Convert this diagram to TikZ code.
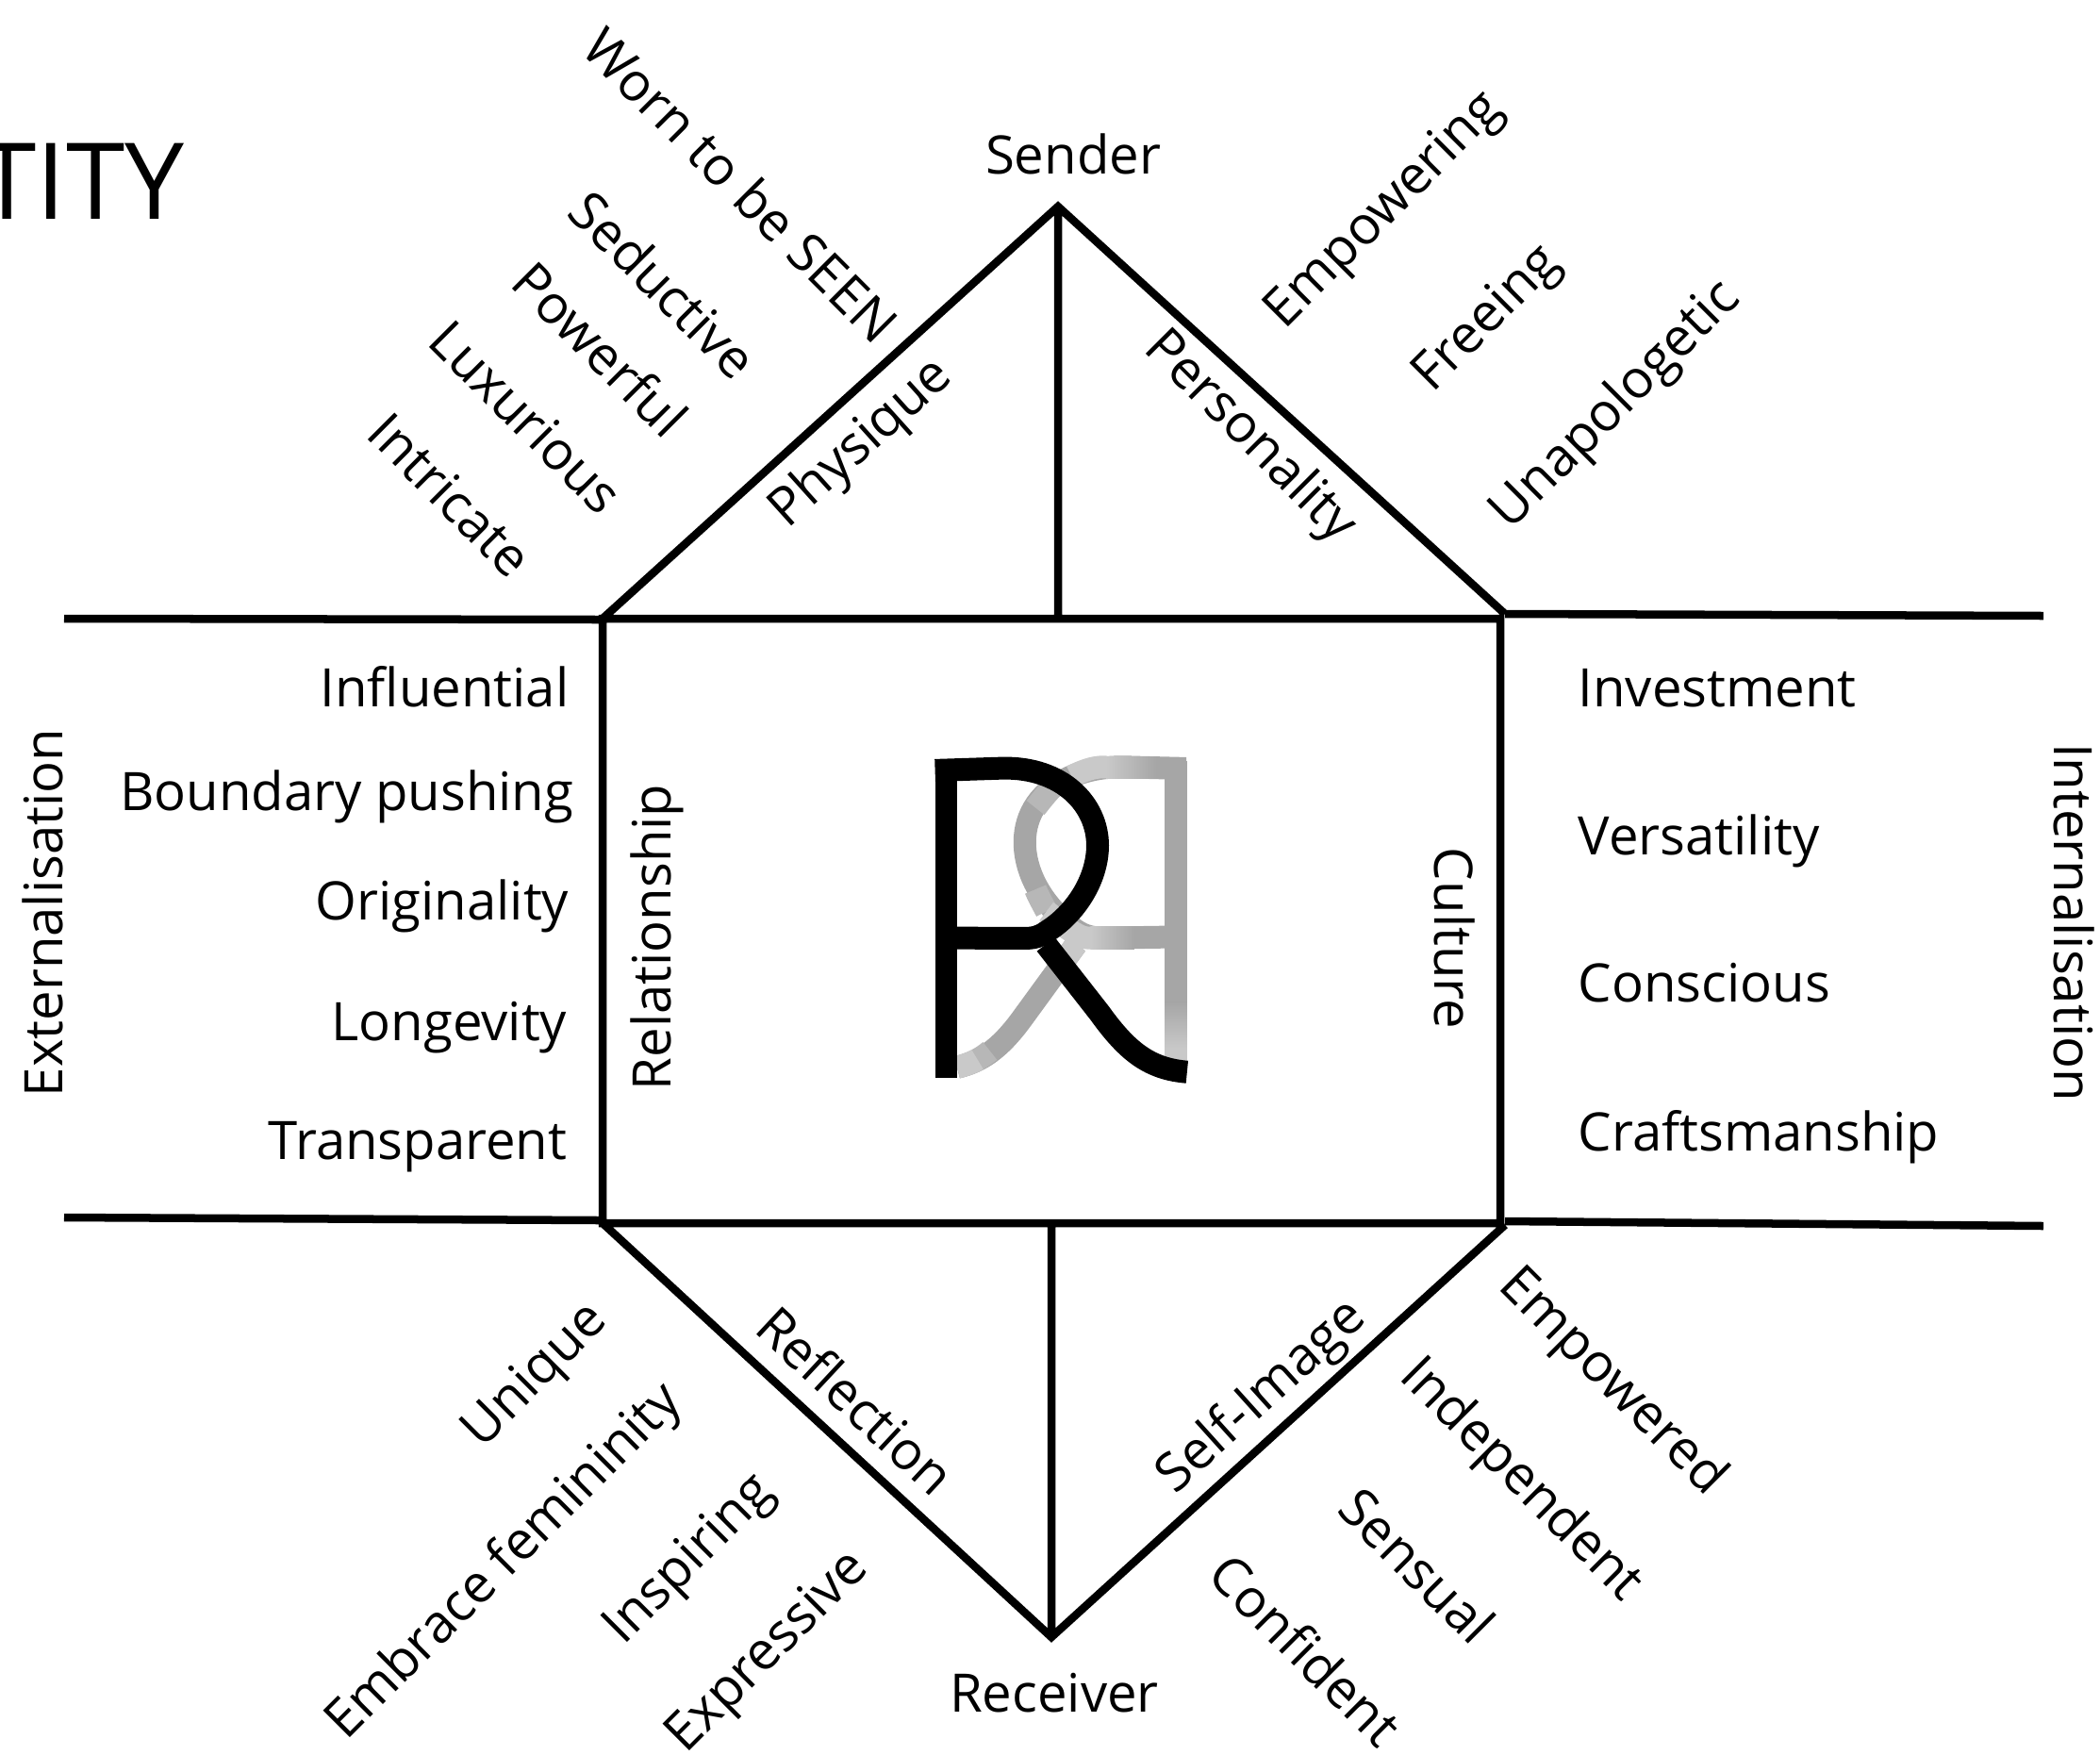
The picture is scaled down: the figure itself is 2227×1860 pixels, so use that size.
\documentclass[tikz,border=0pt]{standalone}
\usepackage{fontspec}
\setmainfont{Open Sans}
\definecolor{logogrey}{HTML}{A6A6A6}
\definecolor{logolight}{HTML}{C9C9C9}
\definecolor{logomid}{HTML}{B7B7B7}
\tikzset{
  word/.style={inner sep=0pt, font=\fontsize{16}{18}\selectfont},
  frameline/.style={line width=0.085cm, color=black},
  logostroke/.style={line width=0.24cm}
}
\begin{document}
\begin{tikzpicture}[x=0.01cm, y=-0.01cm]
    \useasboundingbox (0,0) rectangle (2227,1860);
    \path
    (1122,219) node (sender) {}
    (1122,656) node (sendermid) {}
    (639,656) node (tl) {}
    (1591,656) node (tr) {}
    (639,1297) node (bl) {}
    (1591,1297) node (br) {}
    (1115,1297) node (receivermid) {}
    (1115,1736) node (receiver) {}
    (68,656) node (extop) {}
    (636,657) node (extopend) {}
    (68,1291) node (exbot) {}
    (636,1294) node (exbotend) {}
    (1596,651) node (intop) {}
    (2167,653) node (intopend) {}
    (1596,1295) node (inbot) {}
    (2167,1300) node (inbotend) {}
    (1596,651) node (roofr) {}
    (1596,1299) node (keelr) {};

    \draw[frameline]
    (tl.center) -- (tr.center) -- (br.center) -- (bl.center) -- cycle
    (tl.center) -- (sender.center) -- (roofr.center)
    (sender.center) -- (sendermid.center)
    (bl.center) -- (receiver.center) -- (keelr.center)
    (receivermid.center) -- (receiver.center)
    (extop.center) -- (extopend.center)
    (exbot.center) -- (exbotend.center)
    (intop.center) -- (intopend.center)
    (inbot.center) -- (inbotend.center);

    % mark in the middle
    \begin{scope}[shift={(950,770)}, x=0.003333cm, y=-0.003333cm]
      \draw[logostroke, color=logogrey]
      (925,135) -- (760,131) .. controls (700,129) and (640,128) .. (560,160)
      .. controls (460,205) and (411,280) .. (411,370)
      .. controls (411,470) and (470,570) .. (560,640)
      .. controls (590,665) and (620,675) .. (660,675) -- (860,672);
      \draw[logostroke, color=logogrey]
      (575,695) -- (400,935) .. controls (330,1030) and (270,1070) .. (195,1087);
      \fill[color=logogrey] (857,110) rectangle (928,1075);
      \shade[top color=logogrey, bottom color=logolight] (857,880) rectangle (928,1030);
      \fill[color=logolight] (857,1030) rectangle (928,1075);
      % lighter stretches
      \shade[left color=logolight, right color=logogrey] (670,97) rectangle (830,167);
      \draw[logostroke, color=logolight]
      (672,130) .. controls (640,129) and (610,135) .. (560,160);
      \draw[logostroke, color=logomid]
      (500,195) .. controls (480,215) and (465,235) .. (445,260);
      \draw[logostroke, color=logomid]
      (445,520) .. controls (455,545) and (470,570) .. (480,590);
      \draw[logostroke, color=logolight]
      (480,590) .. controls (500,605) and (510,615) .. (530,630);
      \draw[logostroke, color=logolight]
      (540,640) .. controls (590,675) and (600,675) .. (625,675);
      \shade[left color=logolight, right color=logogrey] (620,639) rectangle (760,710);
      \draw[logostroke, color=logolight]
      (575,695) -- (520,770);
      \draw[logostroke, color=logomid]
      (300,1035) .. controls (270,1060) and (240,1075) .. (195,1087);
      \draw[logostroke, color=logolight]
      (260,1062) .. controls (240,1075) and (220,1080) .. (195,1087);

      \fill[color=black] (125,113) rectangle (195,1122);
      \draw[logostroke, color=black]
      (125,141) -- (340,134) .. controls (530,130) and (643,250) .. (643,380)
      .. controls (643,490) and (570,600) .. (480,655)
      .. controls (460,670) and (440,676) .. (410,676) -- (195,675);
      \draw[logostroke, color=black]
      (478,695) -- (650,915) .. controls (740,1040) and (810,1092) .. (928,1102);
    \end{scope}

    \node[word, anchor=east, font=\fontsize{32}{36}\selectfont] (title) at (196,192) {TITY};
    \node[word] (sendername) at (1138,163) {Sender};
    \node[word] (receivername) at (1118,1795) {Receiver};

    \node[word, rotate=-45] (worn) at (786,196) {Worn to be SEEN};
    \node[word, rotate=-45] (seductive) at (704,302) {Seductive};
    \node[word, rotate=-45] (powerful) at (637,370) {Powerful};
    \node[word, rotate=-45] (luxurious) at (558,442) {Luxurious};
    \node[word, rotate=-45] (intricate) at (478,525) {Intricate};
    \node[word, rotate=42] (physique) at (914,471) {Physique};
    \node[word, rotate=-45] (personality) at (1325,464) {Personality};
    \node[word, rotate=45] (empowering) at (1469,224) {Empowering};
    \node[word, rotate=45] (freeing) at (1578,339) {Freeing};
    \node[word, rotate=45] (unapologetic) at (1714,431) {Unapologetic};

    \node[word, anchor=base east] (influential) at (604,749) {Influential};
    \node[word, anchor=base east] (boundary) at (609,859) {Boundary pushing};
    \node[word, anchor=base east] (originality) at (604,975) {Originality};
    \node[word, anchor=base east] (longevity) at (602,1103) {Longevity};
    \node[word, anchor=base east] (transparent) at (602,1229) {Transparent};

    \node[word, anchor=base west] (investment) at (1673,749) {Investment};
    \node[word, anchor=base west] (versatility) at (1673,906) {Versatility};
    \node[word, anchor=base west] (conscious) at (1673,1062) {Conscious};
    \node[word, anchor=base west] (craftsmanship) at (1673,1220) {Craftsmanship};

    \node[word, rotate=90] (externalisation) at (45,968) {Externalisation};
    \node[word, rotate=90] (relationship) at (697,994) {Relationship};
    \node[word, rotate=-90] (culture) at (1543,995) {Culture};
    \node[word, rotate=-90] (internalisation) at (2200,978) {Internalisation};

    \node[word, rotate=45] (unique) at (569,1460) {Unique};
    \node[word, rotate=45] (embrace) at (536,1657) {Embrace femininity};
    \node[word, rotate=45] (inspiring) at (732,1655) {Inspiring};
    \node[word, rotate=45] (expressive) at (815,1753) {Expressive};
    \node[word, rotate=-43] (reflection) at (908,1485) {Reflection};
    \node[word, rotate=42] (selfimage) at (1339,1482) {Self-Image};
    \node[word, rotate=-45] (empowered) at (1709,1466) {Empowered};
    \node[word, rotate=-45] (independent) at (1612,1570) {Independent};
    \node[word, rotate=-45] (sensual) at (1503,1660) {Sensual};
    \node[word, rotate=-45] (confident) at (1385,1749) {Confident};
  \end{tikzpicture}
\end{document}
